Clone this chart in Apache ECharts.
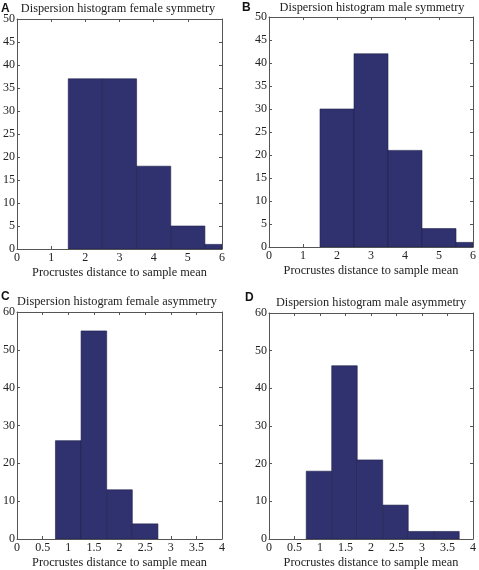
<!DOCTYPE html>
<html><head><meta charset="utf-8">
<script src="https://cdn.jsdelivr.net/npm/echarts@6/dist/echarts.min.js"></script>
<style>html,body{margin:0;padding:0;background:#fff}#c{width:479px;height:570px}</style>
</head><body><div id="c"></div>
<script>
// Panel A: female symmetry
const edgesA = [0.5, 1.5, 2.5, 3.5, 4.5, 5.5, 6.5];
const countsA = [0, 37, 37, 18, 5, 1];
// Panel B: male symmetry
const edgesB = [0.5, 1.5, 2.5, 3.5, 4.5, 5.5, 6.5];
const countsB = [0, 30, 42, 21, 4, 1];
// Panel C: female asymmetry
const edgesC = [0.75, 1.25, 1.75, 2.25, 2.75];
const countsC = [26, 55, 13, 4];
// Panel D: male asymmetry
const edgesD = [0.73, 1.23, 1.73, 2.23, 2.73, 3.23, 3.73];
const countsD = [18, 46, 21, 9, 2, 2];

const titles = ['Dispersion histogram female symmetry', 'Dispersion histogram male symmetry',
                'Dispersion histogram female asymmetry', 'Dispersion histogram male asymmetry'];
const letters = ['A', 'B', 'C', 'D'];
const xName = 'Procrustes distance to sample mean';
const xMax = [6, 6, 4, 4];
const xInterval = [1, 1, 0.5, 0.5];
const yMax = [50, 50, 60, 60];
const yInterval = [5, 5, 10, 10];

const panels = [[edgesA, countsA], [edgesB, countsB], [edgesC, countsC], [edgesD, countsD]];

const grids = [
  {left: 14, top: 19, width: 208, height: 230},
  {left: 269, top: 17, width: 207, height: 230},
  {left: 14, top: 312, width: 208, height: 230},
  {left: 269, top: 313, width: 207, height: 229}
];
const titlePos = [[118, 9], [372, 8], [117, 302], [371, 303]];
const letterPos = [[1, 9], [242, 8], [1, 297], [245, 298]];

const serif = 'Liberation Serif';
const axisColor = '#555';

const option = {
  animation: false,
  backgroundColor: '#fff',
  grid: grids.map(g => Object.assign({containLabel: false}, g)),
  xAxis: [], yAxis: [], series: [], graphic: []
};

panels.forEach((p, i) => {
  const tickCommon = {show: true, inside: true, length: 3, lineStyle: {color: axisColor}};
  option.xAxis.push({
    type: 'value', gridIndex: i, min: 0, max: xMax[i], interval: xInterval[i], position: 'bottom',
    axisLine: {show: true, onZero: false, lineStyle: {color: axisColor, width: 1}},
    axisTick: tickCommon,
    axisLabel: {fontFamily: serif, fontSize: 12, color: '#222', margin: 3},
    splitLine: {show: false},
    name: xName, nameLocation: 'middle', nameGap: 18,
    nameTextStyle: {fontFamily: serif, fontSize: 12.3, color: '#222'}
  });
  option.xAxis.push({
    type: 'value', gridIndex: i, min: 0, max: xMax[i], interval: xInterval[i], position: 'top',
    axisLine: {show: true, onZero: false, lineStyle: {color: axisColor, width: 1}},
    axisTick: tickCommon, axisLabel: {show: false}, splitLine: {show: false}
  });
  option.yAxis.push({
    type: 'value', gridIndex: i, min: 0, max: yMax[i], interval: yInterval[i], position: 'left',
    axisLine: {show: true, onZero: false, lineStyle: {color: axisColor, width: 1}},
    axisTick: tickCommon,
    axisLabel: {fontFamily: serif, fontSize: 12, color: '#222', margin: 2},
    splitLine: {show: false}
  });
  option.yAxis.push({
    type: 'value', gridIndex: i, min: 0, max: yMax[i], interval: yInterval[i], position: 'right',
    axisLine: {show: true, onZero: false, lineStyle: {color: axisColor, width: 1}},
    axisTick: tickCommon, axisLabel: {show: false}, splitLine: {show: false}
  });
  const edges = p[0], counts = p[1];
  const data = counts.map((c, k) => [edges[k], edges[k + 1], c]);
  option.series.push({
    type: 'custom', xAxisIndex: i * 2, yAxisIndex: i * 2,
    encode: {x: [0, 1], y: 2},
    clip: true,
    data: data,
    itemStyle: {color: '#30326f', borderColor: '#1e1f4a', borderWidth: 0.6},
    renderItem: function (params, api) {
      const x0 = api.value(0), x1 = api.value(1), y = api.value(2);
      if (y <= 0) return null;
      const p0 = api.coord([x0, y]);
      const p1 = api.coord([x1, 0]);
      const rect = echarts.graphic.clipRectByRect(
        {x: p0[0], y: p0[1], width: p1[0] - p0[0], height: p1[1] - p0[1]},
        {x: params.coordSys.x, y: params.coordSys.y, width: params.coordSys.width, height: params.coordSys.height});
      if (!rect) return null;
      return {type: 'rect', shape: rect, style: api.style()};
    }
  });
  option.graphic.push({
    type: 'text', x: titlePos[i][0], y: titlePos[i][1],
    style: {text: titles[i], font: '12.3px "Liberation Serif"', fill: '#222', textAlign: 'center', textVerticalAlign: 'middle'}
  });
  option.graphic.push({
    type: 'text', x: letterPos[i][0], y: letterPos[i][1],
    style: {text: letters[i], font: 'bold 12px "Liberation Sans"', fill: '#111', textAlign: 'left', textVerticalAlign: 'middle'}
  });
});

const chart = echarts.init(document.getElementById('c'), null, {renderer: 'canvas'});
chart.setOption(option);
</script>
</body></html>
